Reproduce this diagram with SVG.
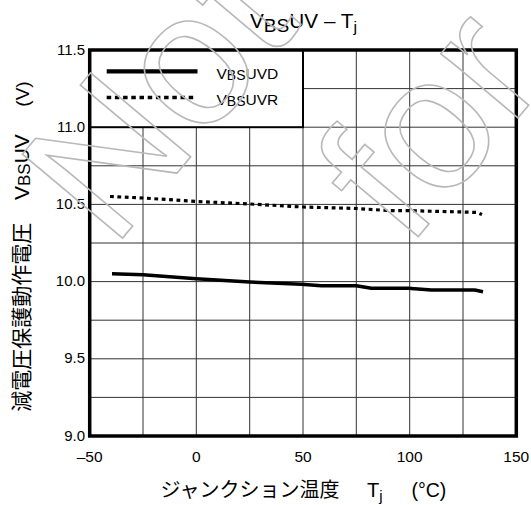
<svg xmlns="http://www.w3.org/2000/svg" width="531" height="505" viewBox="0 0 531 505">
<style>
.lat{font-family:"Liberation Sans",Arial,"Noto Sans CJK JP",sans-serif;fill:#000}
.cjk{font-family:"Liberation Sans",Arial,"Noto Sans CJK JP",sans-serif;fill:#000}
.tick{font-size:15px}
.grid line{stroke:#333;stroke-width:1}
.wm{font-family:"Liberation Sans",Arial,sans-serif;font-size:190px;fill:none;stroke:#b8b8b8;stroke-width:1.6}
</style>
<rect x="0" y="0" width="531" height="505" fill="#fff"/>
<g id="grid" class="grid">
<line x1="143" y1="50" x2="143" y2="436"/>
<line x1="196.3" y1="50" x2="196.3" y2="436"/>
<line x1="249.7" y1="50" x2="249.7" y2="436"/>
<line x1="303" y1="50" x2="303" y2="436"/>
<line x1="356.3" y1="50" x2="356.3" y2="436"/>
<line x1="409.7" y1="50" x2="409.7" y2="436"/>
<line x1="463" y1="50" x2="463" y2="436"/>
<line x1="89.7" y1="88.6" x2="516.3" y2="88.6"/>
<line x1="89.7" y1="127.2" x2="516.3" y2="127.2"/>
<line x1="89.7" y1="165.8" x2="516.3" y2="165.8"/>
<line x1="89.7" y1="204.4" x2="516.3" y2="204.4"/>
<line x1="89.7" y1="243" x2="516.3" y2="243"/>
<line x1="89.7" y1="281.6" x2="516.3" y2="281.6"/>
<line x1="89.7" y1="320.2" x2="516.3" y2="320.2"/>
<line x1="89.7" y1="358.8" x2="516.3" y2="358.8"/>
<line x1="89.7" y1="397.4" x2="516.3" y2="397.4"/>
</g>
<g id="legend">
<rect x="89.7" y="50" width="213.3" height="77.2" fill="#fff" stroke="#000" stroke-width="2"/>
<line x1="106.7" y1="71.3" x2="197.5" y2="71.3" stroke="#000" stroke-width="4.3"/>
<line x1="106.7" y1="97.5" x2="195" y2="97.5" stroke="#000" stroke-width="3.7" stroke-dasharray="4.5 3.7"/>
<text class="lat" x="216.5" y="79" font-size="15.5">V<tspan font-size="14" dy="1">BS</tspan><tspan dy="-1">UVD</tspan></text>
<text class="lat" x="216.5" y="105" font-size="15.5">V<tspan font-size="14" dy="1">BS</tspan><tspan dy="-1">UVR</tspan></text>
</g>
<g id="axes">
<rect x="89.7" y="50" width="426.6" height="386" fill="none" stroke="#000" stroke-width="3.5"/>
<g class="lat tick" text-anchor="end">
<text x="85" y="54.5">11.5</text>
<text x="85" y="131.7">11.0</text>
<text x="85" y="208.9">10.5</text>
<text x="85" y="286.1">10.0</text>
<text x="85" y="363.3">9.5</text>
<text x="85" y="440.5">9.0</text>
</g>
<g class="lat" font-size="15.5" text-anchor="middle">
<text x="89.7" y="461.5">–50</text>
<text x="196.3" y="461.5">0</text>
<text x="303" y="461.5">50</text>
<text x="409.7" y="461.5">100</text>
<text x="516.3" y="461.5">150</text>
</g>
</g>
<g id="series-vbsuvd">
<polyline points="112,273.7 143,274.7 196.3,278.7 249.7,282 301.3,284.3 321.3,285.7 356.3,285.7 371.3,288.3 408,288.3 431.3,290 474.7,290 483,291.7" fill="none" stroke="#000" stroke-width="3.5" stroke-linejoin="round"/>
</g>
<g id="series-vbsuvr">
<polyline points="110,196.5 143,198 197,201.5 250,204 303,207 357,208.5 387,210.5 410,210.7 463,212 477,212.5 482,214.5" fill="none" stroke="#000" stroke-width="3.2" stroke-dasharray="3.8 3.6"/>
</g>
<g id="title">
<text class="lat" x="250" y="28" font-size="19.5" textLength="107" lengthAdjust="spacingAndGlyphs">V<tspan font-size="18" dy="4">BS</tspan><tspan dy="-4">UV – T</tspan><tspan font-size="15" dy="4">j</tspan></text>
</g>
<g id="x-title">
<text class="cjk" x="160.5" y="497" font-size="20">ジャンクション温度</text>
<text class="lat" x="367" y="497" font-size="20">T<tspan font-size="15" dy="4">j</tspan></text>
<text class="lat" x="411.5" y="497" font-size="19.5">(°C)</text>
</g>
<g id="y-title" transform="translate(29,411.7) rotate(-90)">
<text class="cjk" x="0" y="0" font-size="21">減電圧保護動作電圧</text>
<text class="lat" x="211.7" y="0" font-size="21">V<tspan font-size="17" dy="1">BS</tspan><tspan dy="-1">UV</tspan></text>
<text class="lat" x="305" y="0" font-size="19">(V)</text>
</g>
<g id="watermark">
<text class="wm" transform="translate(112.5,250) rotate(-50)">Not</text>
<text class="wm" transform="translate(407.6,249.4) rotate(-50)">for</text>
</g>
</svg>
